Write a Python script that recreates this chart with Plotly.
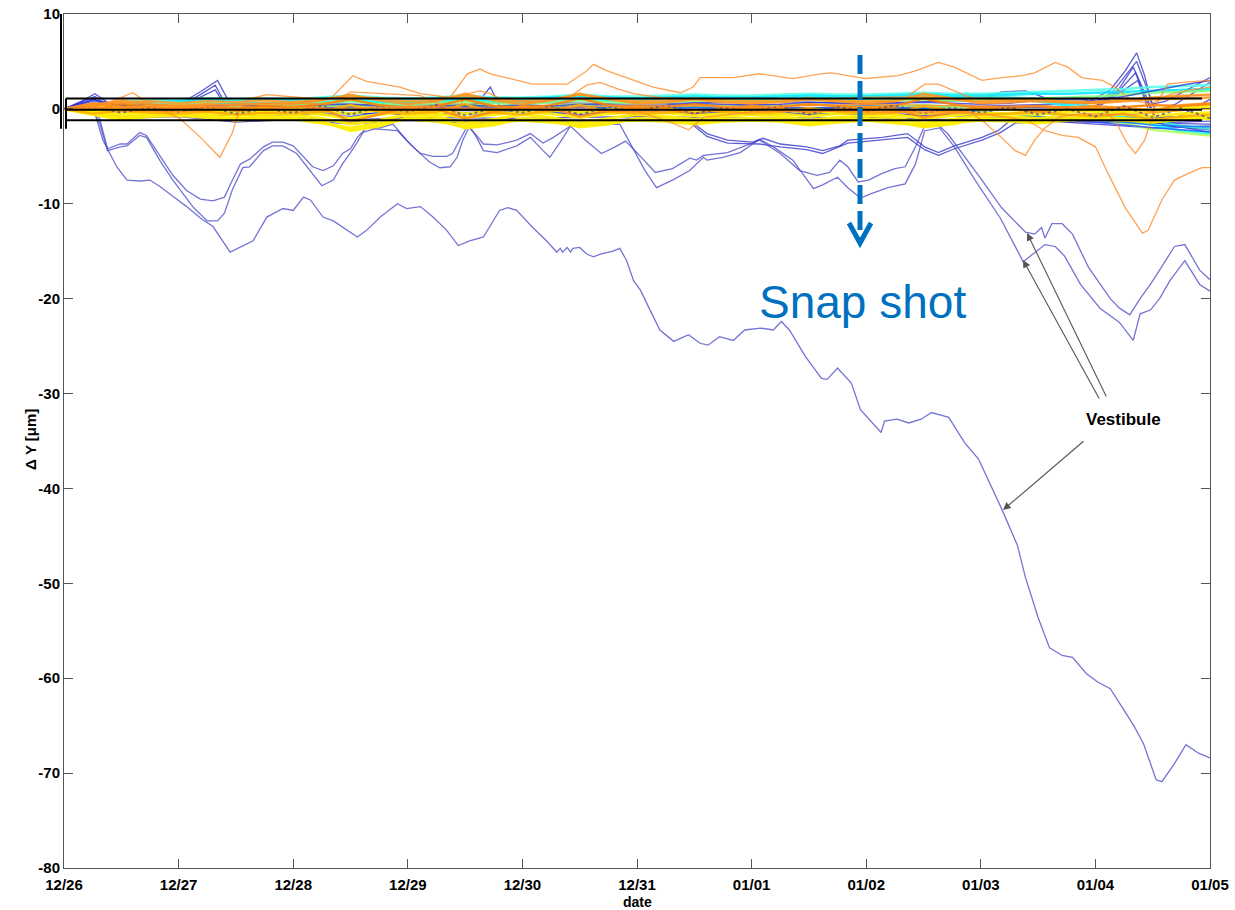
import numpy as np
import pandas as pd
import plotly.graph_objects as go

START = pd.Timestamp("2011-12-26")
TICK_DAYS = list(range(0, 11))
TICK_LABELS = ["12/26", "12/27", "12/28", "12/29", "12/30", "12/31",
               "01/01", "01/02", "01/03", "01/04", "01/05"]
Y_TICKS = [10, 0, -10, -20, -30, -40, -50, -60, -70, -80]
LIMITS = [1.1, -0.1, -1.2]

# ---- main "Vestibule" trace (days since 12/26, delta Y in um)
VEST_D = [0.00,0.27,0.34,0.46,0.55,0.66,0.75,0.84,0.95,1.07,1.19,1.30,1.45,1.65,1.77,1.91,2.00,2.09,2.15,2.26,
          2.35,2.47,2.56,2.64,2.76,2.91,2.99,3.11,3.22,3.34,3.44,3.54,3.66,3.80,3.87,3.95,4.09,4.21,4.30,4.33,
          4.35,4.39,4.42,4.44,4.50,4.56,4.62,4.68,4.79,4.85,4.91,4.97,5.03,5.13,5.20,5.32,5.45,5.55,5.62,5.72,
          5.84,5.94,6.08,6.19,6.26,6.33,6.47,6.61,6.66,6.75,6.87,6.95,7.13,7.16,7.27,7.37,7.48,7.57,7.72,7.86,
          7.98,8.18,8.32,8.39,8.50,8.60,8.71,8.80,8.92,9.02,9.13,9.23,9.34,9.42,9.53,9.58,9.69,9.79,9.90,10.00]
VEST_V = [0,-0.5,-3.3,-6.1,-7.5,-7.6,-7.5,-8.2,-9.2,-10.3,-11.5,-12.4,-15.1,-13.9,-11.4,-10.5,-10.7,-9.3,-9.6,-11.4,
          -11.8,-12.8,-13.5,-12.8,-11.4,-10.0,-10.5,-10.3,-11.4,-12.8,-14.4,-13.9,-13.5,-10.7,-10.4,-10.7,-12.5,-13.9,-15.1,-14.7,
          -15.1,-14.6,-15.1,-14.7,-14.6,-15.3,-15.6,-15.3,-15.0,-14.7,-16.0,-18.1,-19.1,-21.6,-23.3,-24.5,-23.8,-24.7,-24.9,-24.0,
          -24.4,-23.3,-23.1,-23.3,-22.4,-23.3,-26.1,-28.4,-28.5,-27.3,-28.9,-31.7,-34.1,-32.9,-32.7,-33.1,-32.7,-32.0,-32.5,-35.2,
          -36.9,-42.1,-46.0,-49.4,-53.6,-56.8,-57.6,-57.8,-59.5,-60.4,-61.1,-63.0,-65.1,-66.9,-70.7,-70.9,-69.0,-67.0,-67.9,-68.4]

OSCA_D = [0.00,0.23,0.31,0.38,0.49,0.55,0.66,0.72,0.84,0.95,1.07,1.19,1.30,1.40,1.47,1.54,1.62,1.74,1.82,1.91,
          2.00,2.09,2.17,2.26,2.35,2.43,2.50,2.56,2.60,2.71,2.91,3.02,3.11,3.22,3.34,3.39,3.46,3.52,3.60,3.66,
          3.78,3.95,4.07,4.18,4.27,4.42,4.55,4.69,4.81,4.90,5.03,5.16,5.31,5.46,5.52,5.58,5.79,5.92,6.07,6.25,
          6.42,6.57,6.68,6.77,6.84,6.93,7.02,7.14,7.25,7.34,7.43,7.51,7.60,7.71,7.84,8.01,8.18,8.39,8.47,8.53,
          8.56,8.62,8.71,8.80,8.94,9.02,9.13,9.21,9.30,9.39,9.48,9.56,9.69,9.78,9.91,10.00]
OSCA_V = [0,0.5,-1.0,-4.2,-3.7,-3.7,-2.5,-2.8,-5.0,-7.0,-8.6,-9.5,-9.7,-9.3,-7.5,-5.8,-5.3,-4.0,-3.5,-3.5,
          -3.9,-5.1,-6.1,-6.5,-6.0,-4.7,-4.2,-3.0,-2.5,-2.1,-2.3,-3.7,-4.7,-5.0,-5.0,-4.7,-3.1,-1.8,-2.8,-3.7,
          -3.8,-3.3,-2.6,-3.6,-3.0,-1.8,-3.3,-4.7,-4.0,-3.4,-5.0,-6.7,-6.3,-5.2,-5.4,-4.9,-4.6,-4.0,-3.3,-4.7,
          -6.5,-7.0,-6.7,-5.4,-6.1,-7.7,-7.5,-6.8,-6.3,-6.1,-4.0,-1.8,-1.4,-2.6,-4.7,-7.5,-10.4,-13.0,-13.2,-12.5,
          -13.6,-12.1,-12.1,-13.2,-16.7,-18.1,-20.0,-21.0,-21.7,-20.0,-18.5,-17.0,-14.5,-14.3,-17.0,-18.0]

OSCB_D = [0.00,0.23,0.31,0.38,0.49,0.55,0.66,0.72,0.84,0.95,1.13,1.25,1.34,1.40,1.47,1.56,1.62,1.74,1.82,1.91,
          2.03,2.15,2.25,2.35,2.43,2.50,2.56,2.63,2.76,2.87,2.99,3.08,3.19,3.28,3.37,3.43,3.48,3.54,3.60,3.66,
          3.78,3.95,4.07,4.18,4.24,4.33,4.42,4.59,4.85,4.98,5.07,5.17,5.31,5.46,5.58,5.61,5.75,5.90,6.07,6.19,
          6.36,6.54,6.62,6.75,6.84,6.95,7.05,7.19,7.34,7.43,7.51,7.64,7.77,7.95,8.17,8.37,8.47,8.56,8.65,8.73,
          8.87,9.04,9.21,9.33,9.39,9.48,9.56,9.65,9.78,9.91,10.00]
OSCB_V = [0,0.5,-1.5,-4.4,-4.0,-3.9,-2.8,-3.0,-5.5,-7.5,-10.4,-11.8,-11.8,-11.0,-8.5,-6.2,-6.1,-4.4,-3.9,-3.9,
          -4.7,-6.5,-8.1,-7.5,-5.8,-4.6,-3.5,-2.0,-2.0,-1.6,-3.3,-4.4,-5.6,-6.2,-6.1,-5.1,-3.3,-1.8,-3.0,-4.4,
          -4.6,-3.9,-3.0,-4.4,-5.1,-3.5,-1.8,-1.7,-1.6,-4.5,-6.5,-8.3,-7.5,-6.5,-5.1,-5.4,-5.1,-4.6,-3.2,-4.0,
          -5.4,-8.4,-8.0,-7.2,-8.3,-9.4,-8.9,-8.3,-7.9,-5.8,-2.3,-2.0,-4.0,-7.5,-11.5,-16.1,-15.2,-14.3,-14.5,-15.5,
          -18.5,-21.0,-22.5,-24.4,-21.6,-21.2,-20.0,-18.1,-16.0,-18.5,-19.2]

NB1_D = [0,0.5,1.0,1.5,2.0,2.5,3.0,3.5,4.0,4.5,5.0,5.46,5.61,5.79,6.01,6.10,6.25,6.48,6.62,6.77,
         6.84,7.14,7.36,7.51,7.63,7.77,8.01,8.15,8.25,8.6,9.0,9.5,10.0]
NB1_V = [0,-0.8,-0.6,-1.2,-0.9,-1.4,-1.0,-1.3,-1.1,-1.4,-1.0,-1.2,-2.6,-3.3,-3.5,-3.1,-3.7,-4.0,-4.4,-3.9,
         -3.3,-3.0,-2.6,-4.0,-4.6,-3.9,-3.0,-2.3,-1.3,-1.0,-1.2,-1.5,-1.3]
NB2_D = [0,0.5,1.0,1.5,2.0,2.5,3.0,3.5,4.0,4.5,5.0,5.46,5.61,5.79,6.07,6.25,6.48,6.62,6.84,7.14,
         7.36,7.51,7.63,7.77,8.01,8.17,8.30,8.6,9.0,9.5,10.0]
NB2_V = [0,-1.0,-0.8,-1.4,-1.1,-1.6,-1.2,-1.5,-1.3,-1.5,-1.2,-1.4,-2.9,-3.6,-3.7,-4.0,-4.3,-4.7,-3.6,-3.3,
         -3.0,-4.3,-4.9,-4.2,-3.3,-2.5,-1.5,-1.3,-1.6,-2.0,-1.8]

# ---- orange outliers
OR1_D = [0.00,0.31,0.60,0.71,0.92,1.01,1.19,1.36,1.47,1.54,1.60,1.77,2.06,2.32,2.52,2.64,2.93,3.11,3.37,3.52,
         3.63,3.72,4.09,4.39,4.56,4.62,4.74,4.97,5.14,5.38,5.49,5.55,5.84,6.07,6.36,6.60,6.70,6.99,7.28,7.43,
         7.63,7.77,8.01,8.18,8.36,8.47,8.65,8.76,8.88,9.06,9.17,9.30,9.48,9.65,9.83,10.00]
OR1_V = [0,0.3,1.7,0.8,-0.5,-1.0,-3.0,-5.1,-2.5,0.3,1.0,1.5,1.2,1.0,3.5,2.9,2.3,1.6,1.2,3.7,
         4.2,3.7,2.6,2.6,4.0,4.7,4.0,3.0,2.3,1.7,2.3,3.3,3.3,3.7,3.2,3.7,3.8,3.2,3.5,4.0,
         4.9,4.4,3.0,3.3,3.5,3.8,4.9,4.4,3.3,3.0,2.3,1.0,0.5,1.5,2.0,2.3]
OR2_D = [0,0.5,1.0,1.5,2.0,2.32,2.50,2.67,3.11,3.32,3.41,3.52,3.63,3.72,3.80,4.09,4.39,4.56,4.68,4.83,
         4.97,5.20,5.55,6.0,6.5,7.0,7.36,7.51,7.63,7.91,8.3,8.8,9.2,9.6,10.0]
OR2_V = [0,0.6,0.3,0.5,0.6,0.5,1.8,1.7,1.4,0.3,-0.5,1.6,1.9,1.6,1.1,0.7,1.1,2.5,2.8,2.1,
         1.6,1.2,1.0,1.1,1.0,1.2,1.3,2.6,2.6,1.2,0.8,0.6,1.0,1.2,1.5]
OR3_D = [0,1,2,3,4,5,5.31,5.45,5.58,6,7,7.9,8.01,8.18,8.30,8.39,8.47,8.56,8.69,8.87,9.3,9.7,10.0]
OR3_V = [0,0.2,-0.2,0.1,-0.1,-0.2,-1.5,-2.2,-0.9,-0.3,-0.2,-0.3,-1.2,-3.0,-4.4,-4.9,-3.3,-2.0,-0.8,-0.5,-0.6,-0.2,0.0]
OR4_D = [0,1,2,3,4,5,6,7,8,8.4,8.56,8.71,8.85,9.00,9.11,9.26,9.41,9.46,9.58,9.69,9.81,9.93,10.00]
OR4_V = [0,-0.3,0.2,-0.2,0.1,-0.3,0.0,-0.3,-0.5,-1.2,-2.3,-2.8,-3.0,-4.0,-6.8,-10.4,-13.1,-12.8,-9.6,-7.5,-6.8,-6.2,-6.2]
OR5_D = [0,1,2,3,4,5,6,7,8,9.04,9.17,9.28,9.35,9.43,9.52,9.63,9.76,10.00]
OR5_V = [0,0.4,-0.1,0.3,0.0,0.4,0.2,0.5,0.3,0.2,-1.2,-3.7,-4.7,-3.3,0.2,2.6,2.8,3.0]

# ---- blue spiking traces
SP1_D = [0,0.15,0.27,0.40,0.75,1.01,1.19,1.34,1.45,1.54,1.88,2.41,3.0,4.0,5.0,6.0,7.0,8.0,9.0,10.0]
SP1_V = [0,0.8,1.6,0.5,0.3,0.5,1.8,3.0,0.5,-0.6,-1.0,-1.2,-0.9,-1.0,-0.8,-1.0,-0.9,-1.2,-1.4,-1.6]
SP2_D = [0,0.27,0.40,1.01,1.19,1.32,1.43,1.54,2.0,3.0,3.6,3.72,3.80,4.0,5.0,6.0,7.0,8.0,9.0,10.0]
SP2_V = [0,1.3,0.2,0.3,1.5,2.5,0.0,-1.0,-0.6,-0.4,0.5,2.3,0.3,-0.5,-0.3,-0.6,-0.5,-0.8,-0.9,-1.0]
SP3_D = [0,0.27,0.40,1.01,1.32,1.45,2.0,3.0,4.0,5.0,6.0,7.0,8.0,9.0,10.0]
SP3_V = [0,1.0,0.0,0.2,2.0,-0.5,-0.3,-0.6,-0.2,-0.5,-0.3,-0.6,-0.4,-0.7,-0.9]
RS1_D = [0,1,2,3,4,5,6,7,8.0,8.18,8.39,8.6,8.85,8.95,9.13,9.26,9.36,9.43,9.49,9.61,9.8,10.0]
RS1_V = [0,0.5,0.6,0.4,0.7,0.5,0.8,0.6,0.9,1.8,1.9,1.0,1.2,0.8,2.0,4.0,5.9,3.5,0.5,0.8,2.0,3.3]
RS2_D = [0,2,4,6,8,9.0,9.15,9.28,9.36,9.44,9.52,9.7,10.0]
RS2_V = [0,0.3,0.2,0.4,0.3,0.6,1.8,3.8,5.0,2.5,-0.2,0.5,2.8]
RS3_D = [0,3,6,9.0,9.2,9.33,9.42,9.52,9.7,10.0]
RS3_V = [0,0.2,0.1,0.3,2.0,4.4,2.0,-0.8,-1.0,1.0]
RS4_D = [0,3,6,9.0,9.2,9.35,9.44,9.55,9.8,10.0]
RS4_V = [0,-0.2,0.0,0.2,1.8,3.8,1.0,-1.5,-2.0,-2.5]
RS5_D = [0,3,6,9.0,9.25,9.37,9.46,9.6,10.0]
RS5_V = [0,0.1,-0.2,0.0,2.0,3.0,0.0,-1.8,-2.2]

# ---- dense band of well-behaved sensors (values every 6 h)
BAND_D = [0,0.25,0.5,0.75,1,1.25,1.5,1.75,2,2.25,2.5,2.75,3,3.25,3.5,3.75,4,4.25,4.5,4.75,
          5,5.25,5.5,5.75,6,6.25,6.5,6.75,7,7.25,7.5,7.75,8,8.25,8.5,8.75,9,9.25,9.5,9.75,10]
C1 = [0,0.4,0.6,0.7,0.8,0.9,0.8,1.0,0.9,1.0,1.2,1.0,0.9,1.1,1.3,1.1,1.0,1.2,1.3,1.2,1.1,1.2,1.3,1.2,1.2,1.3,1.4,1.3,1.3,1.4,1.5,1.4,1.4,1.5,1.6,1.6,1.7,1.8,1.9,2.0,2.1]
C2 = [0,0.1,0.3,0.4,0.5,0.6,0.4,0.6,0.5,0.7,0.9,0.7,0.6,0.8,1.0,0.8,0.7,0.9,1.1,0.9,0.8,0.9,1.1,1.0,0.9,1.0,1.1,1.0,1.0,1.1,1.2,1.1,1.0,1.0,0.8,0.4,-0.2,-0.9,-1.7,-2.3,-2.6]
C3 = [0,0.2,0.5,0.3,0.6,0.4,0.7,0.5,0.8,0.6,0.9,0.7,0.8,0.7,1.0,0.8,0.9,0.8,1.0,0.9,1.0,0.9,1.1,1.0,1.1,1.0,1.2,1.1,1.2,1.1,1.3,1.2,1.3,1.2,1.1,0.7,0.2,-0.5,-1.2,-1.8,-2.1]
C4 = [0,0.3,0.8,0.9,1.0,1.1,1.0,1.1,1.0,1.2,1.4,1.2,1.1,1.2,1.4,1.2,1.2,1.3,1.5,1.3,1.3,1.4,1.5,1.4,1.4,1.5,1.6,1.5,1.5,1.6,1.7,1.6,1.6,1.7,1.8,1.9,2.0,2.1,2.3,2.4,2.5]
G1 = [0,0.2,0.5,0.3,0.4,0.5,0.3,0.5,0.4,0.6,0.8,0.5,0.4,0.6,0.8,0.6,0.5,0.7,0.9,0.7,0.6,0.7,0.9,0.8,0.7,0.8,1.0,0.8,0.8,0.9,1.0,0.9,0.9,1.0,1.1,1.2,1.3,1.5,1.7,1.8,1.9]
G2 = [0,-0.2,0.0,0.1,0.2,0.1,0.0,0.2,0.1,0.3,0.4,0.2,0.1,0.3,0.5,0.3,0.2,0.3,0.5,0.3,0.2,0.3,0.4,0.3,0.2,0.3,0.5,0.3,0.2,0.3,0.4,0.2,0.1,0.0,-0.3,-0.6,-1.0,-1.5,-2.2,-2.5,-2.8]
B1 = [0,0.8,0.5,-0.2,-0.5,-0.8,-0.6,-0.4,-0.3,-0.6,-0.8,-0.4,-0.3,-0.5,-0.6,-0.4,-0.3,-0.4,-0.6,-0.4,-0.2,-0.4,-0.5,-0.4,-0.3,-0.5,-0.6,-0.5,-0.4,-0.6,-0.7,-0.6,-0.8,-0.9,-1.0,-1.2,-1.4,-1.7,-2.0,-2.2,-2.4]
B2 = [0,1.0,0.3,0.5,0.2,0.3,0.4,0.3,0.2,0.4,0.5,0.3,0.2,0.3,0.4,0.3,0.4,0.3,0.5,0.4,0.3,0.4,0.6,0.5,0.4,0.5,0.7,0.6,0.5,0.6,0.7,0.6,0.5,0.6,0.9,1.0,0.9,1.3,1.9,2.5,3.0]
B3 = [0,0.3,-0.2,0.0,-0.2,-0.1,-0.3,-0.1,-0.2,0.0,0.2,-0.1,-0.2,0.0,0.2,-0.1,-0.2,0.0,0.3,0.0,-0.1,0.0,0.2,0.0,-0.1,0.0,0.1,0.0,-0.1,0.0,0.1,-0.1,-0.3,-0.5,-0.8,-1.0,-1.2,-1.4,-1.7,-1.8,-1.9]
B4 = [0,0.2,-0.4,0.1,-0.3,0.2,-0.5,0.0,-0.4,0.3,-0.6,0.2,-0.3,0.4,-0.7,0.1,-0.4,0.3,-0.6,0.2,-0.3,0.4,-0.5,0.1,-0.2,0.3,-0.6,0.2,-0.3,0.4,-0.5,0.1,-0.4,0.2,-0.6,0.0,-0.8,0.3,-0.9,0.1,-1.0]
Y1 = [0,-0.4,-0.9,-0.6,-0.5,-0.7,-1.0,-0.8,-0.9,-1.3,-2.3,-1.8,-0.9,-1.1,-2.0,-1.7,-1.0,-1.2,-1.9,-1.6,-1.0,-1.1,-1.4,-1.1,-1.0,-1.1,-1.5,-1.2,-1.0,-1.3,-1.9,-1.6,-1.0,-1.1,-1.3,-1.0,-0.9,-1.0,-1.2,-0.9,-0.8]
Y2 = [0,-0.2,-0.6,-0.3,-0.2,-0.4,-0.7,-0.5,-0.6,-1.0,-1.6,-1.2,-0.6,-0.8,-1.5,-1.1,-0.6,-0.9,-1.5,-1.0,-0.6,-0.8,-1.1,-0.8,-0.6,-0.8,-1.2,-0.9,-0.7,-0.9,-1.5,-1.1,-0.7,-0.8,-1.0,-0.7,-0.5,-0.6,-0.8,-0.5,-0.4]
Y3 = [0,0.1,-0.3,-0.1,0.0,-0.2,-0.4,-0.2,-0.3,-0.6,-1.0,-0.6,-0.3,-0.5,-0.9,-0.6,-0.3,-0.5,-0.9,-0.5,-0.3,-0.4,-0.7,-0.5,-0.3,-0.5,-0.8,-0.5,-0.4,-0.6,-1.0,-0.7,-0.4,-0.5,-0.6,-0.3,-0.2,-0.3,-0.4,-0.1,0.1]
Y4 = [0,0.3,0.1,0.2,0.3,0.1,-0.1,0.1,0.0,-0.2,-0.5,-0.1,0.0,-0.2,-0.5,-0.2,0.0,-0.1,-0.4,-0.1,0.1,0.0,-0.3,-0.1,0.0,-0.1,-0.4,-0.2,0.0,-0.2,-0.5,-0.3,0.0,-0.1,-0.2,0.0,0.1,0.0,-0.1,0.2,0.3]
Y5 = [0,-0.6,-1.1,-0.8,-0.7,-0.9,-1.2,-1.0,-1.1,-1.5,-2.0,-1.5,-1.1,-1.3,-1.8,-1.4,-1.2,-1.4,-1.7,-1.3,-1.2,-1.3,-1.6,-1.3,-1.2,-1.3,-1.7,-1.4,-1.2,-1.5,-1.7,-1.4,-1.2,-1.3,-1.5,-1.2,-1.1,-1.2,-1.4,-1.1,-1.0]
O1 = [0,0.3,0.9,0.5,0.3,0.5,0.4,0.6,0.5,0.9,1.5,0.9,0.5,0.8,1.6,0.9,0.5,0.9,1.6,1.0,0.6,0.7,1.0,0.7,0.6,0.7,1.0,0.8,0.6,0.8,1.6,1.1,0.6,0.7,0.9,0.7,0.6,0.8,1.0,1.1,1.2]
O2 = [0,-0.1,0.5,0.2,0.0,0.2,0.1,0.3,0.2,0.5,1.0,0.4,0.1,0.3,1.0,0.3,0.1,0.4,1.1,0.4,0.1,0.2,0.5,0.2,0.0,0.2,0.5,0.3,0.1,0.3,1.1,0.5,0.1,0.2,0.3,0.1,0.0,0.2,0.4,0.3,0.5]
O3 = [0,-0.5,-0.2,-0.4,-0.5,-0.3,-0.6,-0.4,-0.5,-0.3,0.4,-0.3,-0.5,-0.3,0.5,-0.4,-0.6,-0.2,0.4,-0.3,-0.5,-0.4,-0.1,-0.3,-0.5,-0.3,0.1,-0.3,-0.5,-0.4,0.3,-0.2,-0.6,-0.5,-0.3,-0.6,-0.8,-0.5,-1.2,-0.8,-0.6]
O4 = [0,0.6,0.2,-0.1,0.1,0.3,-0.2,0.0,0.2,0.1,-1.3,-0.6,0.2,0.0,-1.0,-0.3,0.3,0.1,-0.8,-0.2,0.2,0.0,-0.5,0.0,0.3,0.1,-0.4,0.0,0.2,0.0,-0.9,-0.4,0.2,0.0,-0.3,0.1,0.3,0.1,-0.2,0.4,0.6]
O5 = [0,0.5,0.7,0.8,0.6,0.8,0.7,0.9,0.7,1.0,1.3,1.1,0.8,1.0,1.4,1.0,0.8,1.0,1.5,1.1,0.8,0.9,1.1,0.9,0.8,0.9,1.1,0.9,0.8,0.9,1.3,1.0,0.8,0.9,1.0,0.8,0.7,0.9,1.2,1.4,1.5]

for _s in (C1, C2, C3, C4, G1, G2, B1, B2, B3, B4, Y1, Y2, Y3, Y4, Y5, O1, O2, O3, O4, O5):
    assert len(_s) == len(BAND_D), len(_s)
for _d, _v in ((VEST_D, VEST_V), (OSCA_D, OSCA_V), (OSCB_D, OSCB_V), (NB1_D, NB1_V), (NB2_D, NB2_V),
               (OR1_D, OR1_V), (OR2_D, OR2_V), (OR3_D, OR3_V), (OR4_D, OR4_V), (OR5_D, OR5_V),
               (SP1_D, SP1_V), (SP2_D, SP2_V), (SP3_D, SP3_V), (RS1_D, RS1_V), (RS2_D, RS2_V),
               (RS3_D, RS3_V), (RS4_D, RS4_V), (RS5_D, RS5_V)):
    assert len(_d) == len(_v), (len(_d), len(_v))


def to_dt(days):
    return START + pd.to_timedelta(np.asarray(days, dtype=float), unit="D")


fig = go.Figure()


def add(d, v, color, width=1.3, dash=None):
    fig.add_trace(go.Scatter(x=to_dt(d), y=v, mode="lines", showlegend=False, hoverinfo="skip",
                             line=dict(color=color, width=width, dash=dash)))


# off-band blue traces first (band covers their in-band parts)
for d, v in ((SP1_D, SP1_V), (SP2_D, SP2_V), (SP3_D, SP3_V), (RS1_D, RS1_V), (RS2_D, RS2_V),
             (RS3_D, RS3_V), (RS4_D, RS4_V), (RS5_D, RS5_V), (NB1_D, NB1_V), (NB2_D, NB2_V)):
    add(d, v, "rgba(40,40,200,0.75)", 1.3)
for d, v in ((OSCA_D, OSCA_V), (OSCB_D, OSCB_V), (VEST_D, VEST_V)):
    add(d, v, "rgba(70,70,200,0.75)", 1.3)

# band, back to front
for s, c in ((C4, "rgba(80,255,230,0.85)"), (C1, "rgba(0,230,255,0.85)"), (C3, "rgba(64,224,208,0.85)"),
             (C2, "rgba(0,255,255,0.85)"), (G1, "rgba(128,255,128,0.85)"), (G2, "rgba(170,255,90,0.85)")):
    add(BAND_D, s, c, 2.6)
for s, c in ((B1, "rgba(30,60,255,0.75)"), (B2, "rgba(40,40,220,0.75)"), (B3, "rgba(0,128,255,0.8)")):
    add(BAND_D, s, c, 1.5)
for s in (Y5, Y1, Y2, Y3, Y4):
    add(BAND_D, s, "rgba(255,238,0,0.95)", 3)
for s, c in ((O5, "rgba(255,160,40,0.9)"), (O1, "rgba(255,150,30,0.9)"), (O2, "rgba(255,128,0,0.9)"),
             (O3, "rgba(255,175,0,0.9)"), (O4, "rgba(255,140,20,0.85)")):
    add(BAND_D, s, c, 2.4)
add(BAND_D, B4, "rgba(80,80,150,0.75)", 2, "dot")

# orange outliers on top
for d, v in ((OR1_D, OR1_V), (OR2_D, OR2_V), (OR3_D, OR3_V), (OR4_D, OR4_V), (OR5_D, OR5_V)):
    add(d, v, "rgba(255,140,40,0.8)", 1.3)

# ---- layout helpers (pixel -> paper)
PL, PR, PT, PB = 64, 1210, 14, 868


def px(x):
    return (x - PL) / (PR - PL)


def py(y):
    return (PB - y) / (PB - PT)


shapes = []
for lv in LIMITS:
    shapes.append(dict(type="line", xref="paper", yref="y", x0=px(66), x1=px(1202), y0=lv, y1=lv,
                       line=dict(color="black", width=2)))
shapes.append(dict(type="line", xref="paper", yref="y", x0=px(66), x1=px(66), y0=LIMITS[0], y1=-2.1,
                   line=dict(color="black", width=2)))
shapes.append(dict(type="line", xref="paper", yref="y", x0=px(61), x1=px(61), y0=10, y1=-2.1,
                   line=dict(color="black", width=2)))
# snapshot dashed arrow
BLUE = "#0070C0"
shapes.append(dict(type="line", xref="paper", yref="paper", x0=px(860), x1=px(860), y0=py(55), y1=py(240),
                   line=dict(color=BLUE, width=5, dash="19px,7px")))
shapes.append(dict(type="path", xref="paper", yref="paper",
                   path=f"M {px(849)} {py(223)} L {px(860)} {py(243)} L {px(871)} {py(223)}",
                   line=dict(color=BLUE, width=5)))

LABEL_FONT = "Liberation Sans Narrow, Arial Narrow, Liberation Sans, Arial, sans-serif"
annotations = [
    dict(text="Snap shot", xref="paper", yref="paper", x=px(862), y=py(302), showarrow=False,
         font=dict(family="Liberation Sans, Arial, sans-serif", size=46, color=BLUE),
         xanchor="center", yanchor="middle"),
    dict(text="Vestibule", xref="paper", yref="paper", x=px(1123), y=py(419), showarrow=False,
         font=dict(family=LABEL_FONT, size=17, color="black", weight="bold"),
         xanchor="center", yanchor="middle"),
    dict(text="date", xref="paper", yref="paper", x=px(637), y=py(902), showarrow=False,
         font=dict(family=LABEL_FONT, size=14, color="black", weight="bold"),
         xanchor="center", yanchor="middle"),
    dict(text="Δ Y [μm]", xref="paper", yref="paper", x=px(30), y=py(440), showarrow=False,
         textangle=-90, font=dict(family=LABEL_FONT, size=15, color="black", weight="bold"),
         xanchor="center", yanchor="middle"),
]
for hx, hy, ax, ay in ((1027, 233, 80, 165), (1023, 260, 77, 140), (1003, 510, 82, -70)):
    annotations.append(dict(text="", xref="paper", yref="paper", x=px(hx), y=py(hy), ax=ax, ay=ay,
                            showarrow=True, arrowhead=2, arrowsize=1.4, arrowwidth=1.1,
                            arrowcolor="#555555"))

axis_common = dict(showgrid=False, zeroline=False, showline=True, linecolor="#555555", linewidth=1,
                   mirror="allticks", ticks="inside", ticklen=9, tickwidth=1, tickcolor="#555555",
                   tickfont=dict(family=LABEL_FONT, size=15, color="black", weight="bold"))

fig.update_layout(
    width=1235, height=910,
    margin=dict(l=PL, r=1235 - PR, t=PT, b=910 - PB, autoexpand=False),
    paper_bgcolor="white", plot_bgcolor="white",
    showlegend=False,
    xaxis=dict(type="date", range=[to_dt([0])[0], to_dt([10])[0]],
               tickvals=list(to_dt(TICK_DAYS)), ticktext=TICK_LABELS, ticklabelstandoff=3,
               **axis_common),
    yaxis=dict(range=[-80, 10], tickvals=Y_TICKS, ticktext=[str(t) for t in Y_TICKS], **axis_common),
    shapes=shapes,
    annotations=annotations,
)

fig.write_html("out.html")
